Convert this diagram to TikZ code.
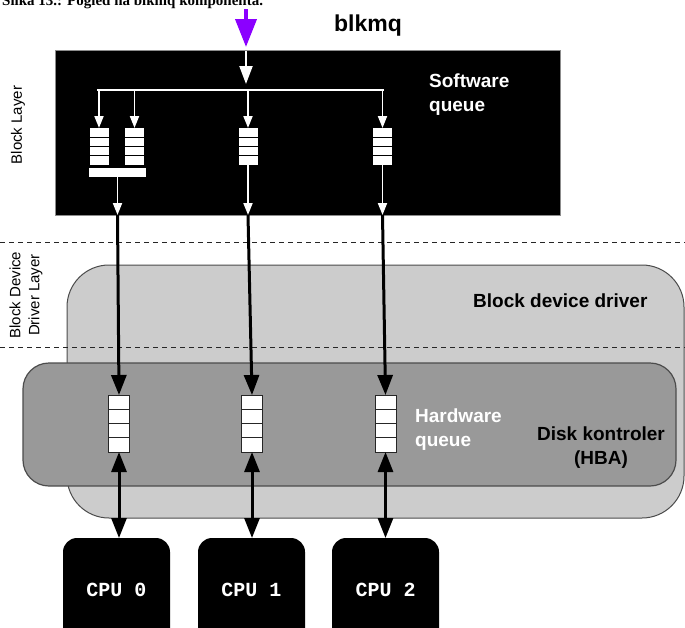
\documentclass[tikz,border=0pt]{standalone}
\usepackage{fontspec}
\setmainfont{Liberation Sans}
\newfontfamily\capfont{Liberation Serif}
\newfontfamily\cpufont{Liberation Mono}
\usetikzlibrary{arrows.meta,calc}
\definecolor{violetarrow}{HTML}{8B00FF}
\definecolor{lightbox}{HTML}{CCCCCC}
\definecolor{darkbox}{HTML}{999999}
\newcommand{\qcells}[2]{\foreach \k in {1,2,3}{\draw[#2, line width=1.2pt] ($(#1.north west)!\k/4!(#1.south west)$) -- ($(#1.north east)!\k/4!(#1.south east)$);}}
\tikzset{
  warrow/.style={draw=white, line width=1.8pt, -{Triangle[width=9pt,length=12pt]}},
  bigwarrow/.style={draw=white, line width=2.2pt, -{Triangle[width=13pt,length=18pt]}},
  barrow/.style={draw=black, line width=3pt, -{Triangle[width=15pt,length=20pt]}},
  bdarrow/.style={draw=black, line width=3pt, {Triangle[width=15pt,length=20pt]}-{Triangle[width=15pt,length=20pt]}},
  swq/.style={fill=white, draw=none, minimum width=19pt, minimum height=37pt, inner sep=0, outer sep=0},
  hwq/.style={fill=white, draw=black!85, line width=1pt, minimum width=21pt, minimum height=57pt, inner sep=0, outer sep=0},
  cpubox/.style={fill=black, rounded corners=14pt, minimum width=107pt, minimum height=104pt, inner sep=0, outer sep=0, text=white, font=\cpufont\bfseries\fontsize{20}{20}\selectfont},
  lbl/.style={font=\bfseries\fontsize{19}{24}\selectfont, inner sep=0},
  sidelbl/.style={font=\fontsize{15}{19}\selectfont, inner sep=0, rotate=90, align=center},
  layerline/.style={draw=black!85, line width=1pt, dash pattern=on 5pt off 4pt},
}
\begin{document}
\begin{tikzpicture}[x=1pt,y=-1pt]
\clip (0,0) rectangle (685,627);
\fill[white] (0,0) rectangle (685,627);
% caption (cut off at the top)
\node[font=\capfont\bfseries\fontsize{15}{15}\selectfont, anchor=base west, inner sep=0] (cap) at (2,5.5) {Slika 13.: Pogled na blkmq komponenta.};
% block device driver
\node[fill=lightbox, draw=black!70, line width=1pt, rounded corners=42pt, minimum width=617pt, minimum height=253pt, inner sep=0, outer sep=0] (bdd) at (375.5,391.5) {};
% layer separators
\coordinate (d1l) at (0,242); \coordinate (d1r) at (685,242);
\coordinate (d2l) at (0,347); \coordinate (d2r) at (685,347);
\draw[layerline] (d1l) -- (d1r);
\draw[layerline] (d2l) -- (d2r);
% disk controller
\node[fill=darkbox, draw=black!70, line width=1.2pt, rounded corners=26pt, minimum width=653pt, minimum height=123pt, inner sep=0, outer sep=0] (hba) at (349.5,424.5) {};
% block layer
\node[fill=black, draw=black!45, line width=1pt, minimum width=505pt, minimum height=165pt, inner sep=0, outer sep=0] (bl) at (307.5,132.5) {};
% title and incoming arrow
\node[font=\bfseries\fontsize{23}{23}\selectfont, inner sep=0] (title) at (368,26) {blkmq};
\coordinate (pin) at (246,9);
\coordinate (pend) at (246,47);
\draw[draw=violetarrow, line width=4pt, -{Triangle[width=21pt,length=28pt]}] (pin) -- (pend);
\coordinate (wstart) at (246,51);
\coordinate (wend) at (246,84);
\draw[bigwarrow] (wstart) -- (wend);
% distribution line
\coordinate (hl) at (97,90);
\coordinate (hr) at (384,90);
\draw[draw=white, line width=2.5pt] (hl) -- (hr);
% software queues
\node[swq] (q1) at (99,146.5) {};
\node[swq] (q2) at (134.5,146.5) {};
\node[swq] (q3) at (248,146.5) {};
\node[swq] (q4) at (382.5,146.5) {};
\qcells{q1}{black}\qcells{q2}{black}\qcells{q3}{black}\qcells{q4}{black}
\node[fill=white, minimum width=57pt, minimum height=9pt, inner sep=0, outer sep=0] (mb) at (117.5,172.5) {};
\draw[warrow] (q1.north |- hl) -- (q1.north);
\draw[warrow] (q2.north |- hl) -- (q2.north);
\draw[warrow] (q3.north |- hl) -- (q3.north);
\draw[warrow] (q4.north |- hl) -- (q4.north);
\coordinate (o1) at (mb.south |- bl.south);
\coordinate (o2) at (q3.south |- bl.south);
\coordinate (o3) at (q4.south |- bl.south);
\draw[warrow] (mb.south) -- (o1);
\draw[warrow] (q3.south) -- (o2);
\draw[warrow] (q4.south) -- (o3);
% hardware queues
\node[hwq] (h1) at (119,423.5) {};
\node[hwq] (h2) at (252,423.5) {};
\node[hwq] (h3) at (385.5,423.5) {};
\qcells{h1}{black!85}\qcells{h2}{black!85}\qcells{h3}{black!85}
\draw[barrow] (o1) -- (h1.north);
\draw[barrow] (o2) -- (h2.north);
\draw[barrow] (o3) -- (h3.north);
% CPUs
\node[cpubox] (c1) at (116.5,590) {CPU 0};
\node[cpubox] (c2) at (251.5,590) {CPU 1};
\node[cpubox] (c3) at (385.5,590) {CPU 2};
\draw[bdarrow] (h1.south) -- (h1.south |- c1.north);
\draw[bdarrow] (h2.south) -- (h2.south |- c2.north);
\draw[bdarrow] (h3.south) -- (h3.south |- c3.north);
% labels
\node[lbl, text=white, align=left, anchor=north west] (swl) at (429,74) {Software\\queue};
\node[lbl, text=white, align=left, anchor=north west] (hwl) at (415,409) {Hardware\\queue};
\node[lbl, anchor=base west] (bddl) at (473,307) {Block device driver};
\node[lbl, align=center, anchor=north] (hbal) at (601,427) {Disk kontroler\\(HBA)};
\node[sidelbl] (sl1) at (18,125) {Block Layer};
\node[sidelbl] (sl2) at (26,295) {Block Device\\Driver Layer};
\end{tikzpicture}
\end{document}
